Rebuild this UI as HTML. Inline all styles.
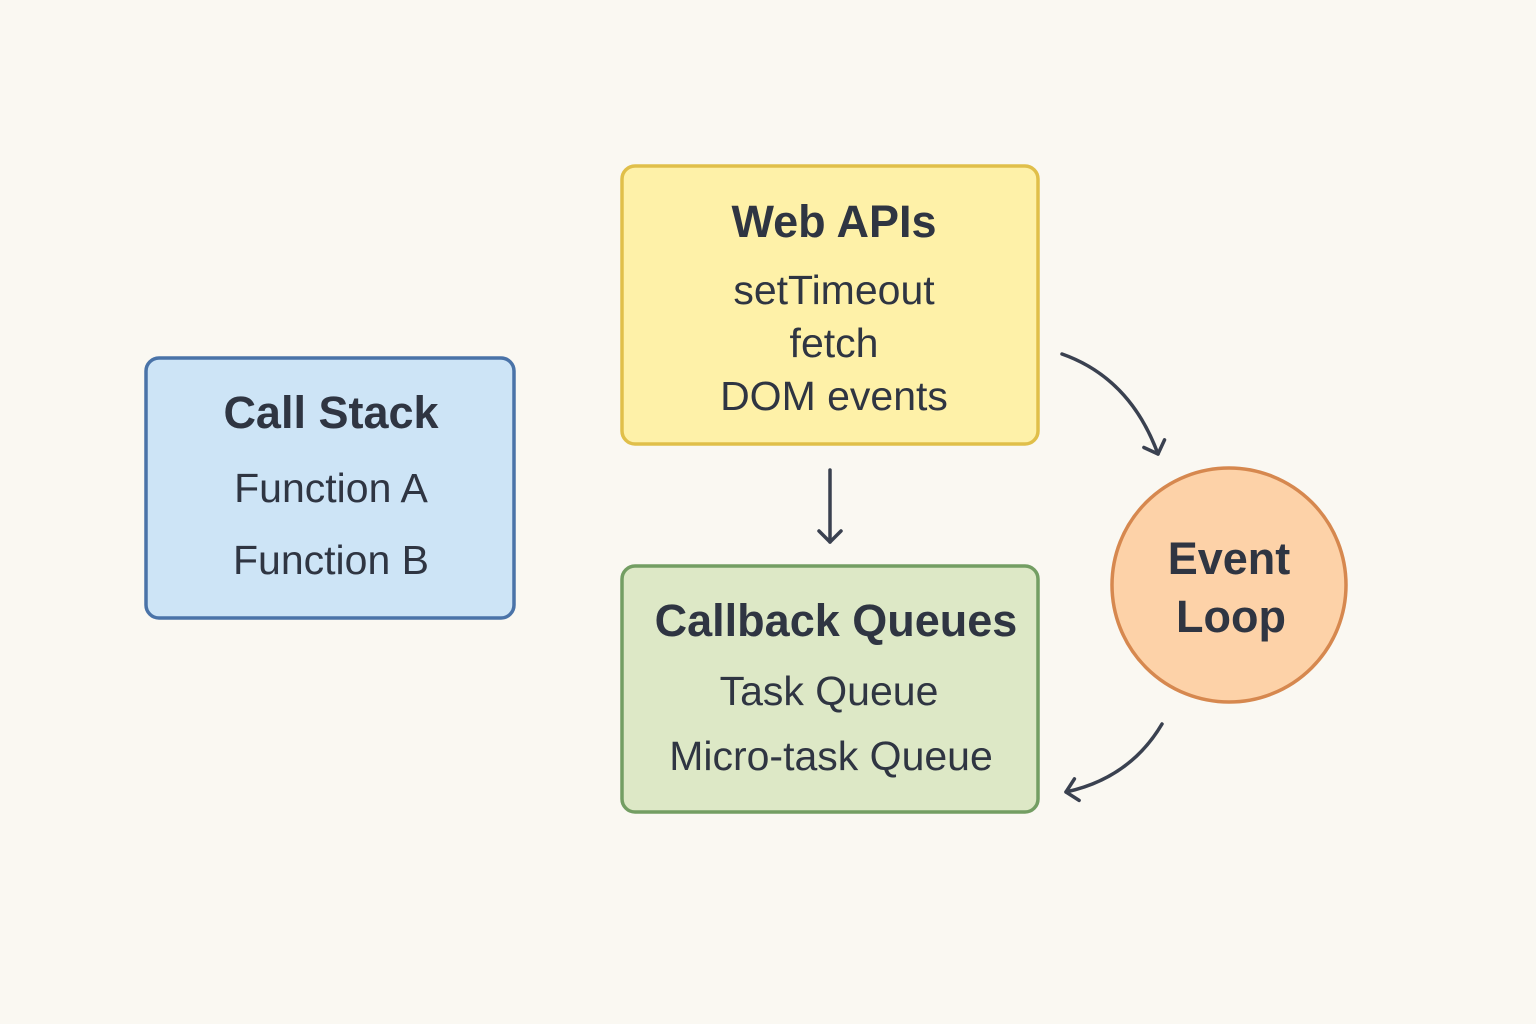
<!DOCTYPE html>
<html><head><meta charset="utf-8"><style>
html,body{margin:0;padding:0;background:#faf8f2;}
svg{display:block;}
text{font-family:"Liberation Sans","DejaVu Sans",sans-serif;fill:#2f3542;text-anchor:middle;}
.t{font-size:45px;font-weight:bold;}
.i{font-size:41px;}
</style></head><body>
<svg width="1536" height="1024" viewBox="0 0 1536 1024">
<rect width="1536" height="1024" fill="#faf8f2"/>
<defs>
<marker id="a" markerWidth="26" markerHeight="26" refX="13" refY="13" orient="auto" markerUnits="userSpaceOnUse">
<path d="M2,2 L13,13 L2,24" fill="none" stroke="#3a4150" stroke-width="3.5" stroke-linecap="round" stroke-linejoin="round"/>
</marker>
</defs>
<rect x="146" y="358" width="368" height="260" rx="13" fill="#cde4f6" stroke="#4a73a8" stroke-width="3.5"/>
<text class="t" x="331" y="428">Call Stack</text>
<text class="i" x="331" y="502">Function A</text>
<text class="i" x="331" y="574">Function B</text>

<rect x="622" y="166" width="416" height="278" rx="13" fill="#fef1a8" stroke="#e0bf4a" stroke-width="3.5"/>
<text class="t" x="834" y="237">Web APIs</text>
<text class="i" x="834" y="304">setTimeout</text>
<text class="i" x="834" y="357">fetch</text>
<text class="i" x="834" y="410">DOM events</text>

<rect x="622" y="566" width="416" height="246" rx="13" fill="#dde8c6" stroke="#739e63" stroke-width="3.5"/>
<text class="t" x="836" y="636">Callback Queues</text>
<text class="i" x="829" y="705">Task Queue</text>
<text class="i" x="831" y="770">Micro-task Queue</text>

<circle cx="1229" cy="585" r="117" fill="#fdd2a8" stroke="#d6884f" stroke-width="3.5"/>
<text class="t" x="1229" y="574">Event</text>
<text class="t" x="1231" y="632">Loop</text>

<g fill="none" stroke="#3a4150" stroke-width="3.5" stroke-linecap="round">
<path d="M830 470 L830 542" marker-end="url(#a)"/>
<path d="M1062 354 Q1130 378 1158 454" marker-end="url(#a)"/>
<path d="M1162 724 Q1130 778 1066 792" marker-end="url(#a)"/>
</g>
</svg>
</body></html>
